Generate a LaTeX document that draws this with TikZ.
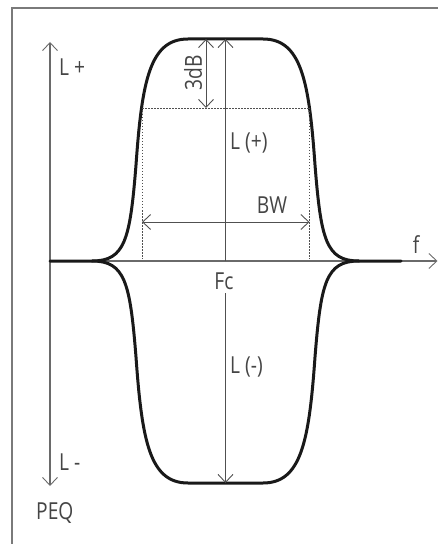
\documentclass[tikz,border=0pt]{standalone}
\usepackage{fontspec}
\setmainfont{Open Sans}[FakeStretch=0.82]
\usetikzlibrary{arrows.meta}
\definecolor{framec}{HTML}{7A7A7A}
\definecolor{axisc}{HTML}{6A6A6A}
\definecolor{thinc}{HTML}{505050}
\definecolor{txtc}{HTML}{454545}
\begin{document}
\begin{tikzpicture}[x=1bp,y=-1bp,
  framel/.style={draw=framec,line width=1.5bp},
  axisl/.style={draw=axisc,line width=1.3bp},
  curvel/.style={draw=black!90,line width=3bp,line cap=round,line join=round},
  thinl/.style={draw=thinc,line width=0.9bp},
  dotl/.style={draw=thinc,line width=0.9bp,dash pattern=on 1.5bp off 1.5bp},
  tip/.style={-{Straight Barb[length=8bp,width=15bp,line width=0.9bp]}},
  tips/.style={{Straight Barb[length=8bp,width=15bp,line width=0.9bp]}-{Straight Barb[length=8bp,width=15bp,line width=0.9bp]}},
  lbl/.style={text=txtc,font=\fontsize{23.5}{28}\selectfont,inner sep=0pt}]
\useasboundingbox (0,0) rectangle (438,544);
% frame
\coordinate (fA) at (12,544);
\coordinate (fB) at (12,8);
\coordinate (fC) at (438,8);
\draw[framel] (fA) -- (fB) -- (fC);
% axes
\coordinate (O) at (50,261);
\coordinate (Ytop) at (50,42);
\coordinate (Ybot) at (50,486);
\coordinate (Xend) at (437.5,261);
\draw[axisl,tip] (O) -- (Ytop);
\draw[axisl,tip] (O) -- (Ybot);
\draw[axisl,tip] (O) -- (Xend);
% curves (upper and mirrored lower)
\coordinate (lb) at (92,261);
\coordinate (rb) at (359,261);
\coordinate (re) at (401,261);
\draw[curvel] (O) -- (lb) .. controls (125,261) and (130,240) .. (136,165)
  .. controls (142,80) and (150,39) .. (188,39) -- (263,39)
  .. controls (301,39) and (309,80) .. (315,165)
  .. controls (321,240) and (326,261) .. (rb) -- (re);
\draw[curvel] (lb) .. controls (125,261) and (130,282) .. (136,357)
  .. controls (142,442) and (150,483) .. (188,483) -- (263,483)
  .. controls (301,483) and (309,442) .. (315,357)
  .. controls (321,282) and (326,261) .. (rb);
% center line
\coordinate (Cax) at (225.5,261);
\coordinate (Ctop) at (225.5,39);
\coordinate (Clow) at (225.5,293);
\coordinate (Cbot) at (225.5,483);
\draw[thinl,tip] (Cax) -- (Ctop);
\draw[thinl,tip] (Clow) -- (Cbot);
% -3dB level
\coordinate (dL) at (142,108);
\coordinate (dR) at (309.5,108);
\coordinate (dLb) at (142,259);
\coordinate (dRb) at (309.5,259);
\draw[dotl] (dL) -- (dR);
\draw[dotl] (dL) -- (dLb);
\draw[dotl] (dR) -- (dRb);
% 3dB arrow
\coordinate (t3a) at (206,39);
\coordinate (t3b) at (206,108);
\draw[thinl,tips] (t3a) -- (t3b);
% BW arrow
\coordinate (bwL) at (142,222);
\coordinate (bwR) at (309.5,222);
\draw[thinl,tips] (bwL) -- (bwR);
% labels
\node[lbl,rotate=90] (l3db) at (193,73) {3dB};
\node[lbl,anchor=west] (lplus) at (59,67) {L +};
\node[lbl,anchor=west] (lpp) at (230,143) {L (+)};
\node[lbl] (bw) at (272,205) {BW};
\node[lbl] (f) at (416,245) {f};
\node[lbl] (fc) at (224,281) {Fc};
\node[lbl,anchor=west] (lmm) at (230,367) {L (-)};
\node[lbl,anchor=west] (lminus) at (59,462) {L -};
\node[lbl,anchor=west] (peq) at (36,513) {PEQ};
\end{tikzpicture}
\end{document}
